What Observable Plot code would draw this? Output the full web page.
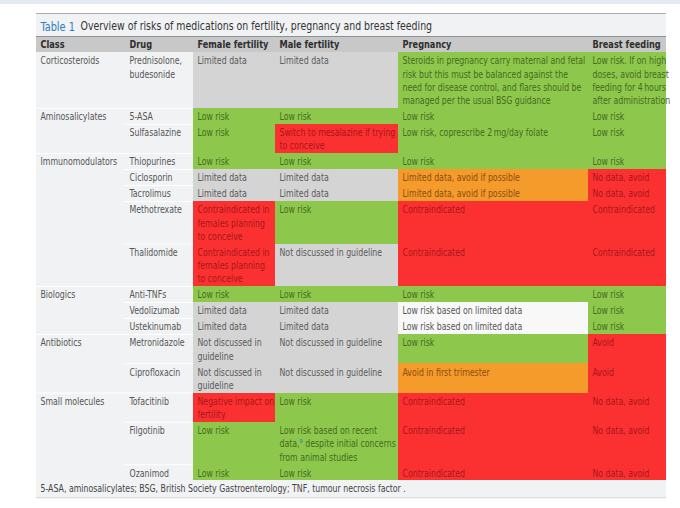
<!DOCTYPE html>
<html><head><meta charset="utf-8">
<script src="https://cdn.jsdelivr.net/npm/d3@7"></script>
<script src="https://cdn.jsdelivr.net/npm/@observablehq/plot@0.6"></script>
<style>
body{margin:0;background:#fff linear-gradient(#e4ebf0,#e4ebf0) no-repeat;background-size:100% 4px;}
#chart svg{display:block;background:transparent;}
</style>
</head><body><div id="chart"></div>
<script>
// ---------- data ----------
const titleLabel = "Table 1";
const titleText = "Overview of risks of medications on fertility, pregnancy and breast feeding";
const columns = ["Class", "Drug", "Female fertility", "Male fertility", "Pregnancy", "Breast feeding"];
const drugClass = ["Corticosteroids", "Aminosalicylates", "", "Immunomodulators", "", "", "", "", "Biologics", "", "", "Antibiotics", "", "Small molecules", "", ""];
const drugs = ["Prednisolone,\nbudesonide", "5-ASA", "Sulfasalazine", "Thiopurines", "Ciclosporin", "Tacrolimus", "Methotrexate", "Thalidomide", "Anti-TNFs", "Vedolizumab", "Ustekinumab", "Metronidazole", "Ciprofloxacin", "Tofacitinib", "Filgotinib", "Ozanimod"];
const femaleFertility = ["Limited data", "Low risk", "Low risk", "Low risk", "Limited data", "Limited data", "Contraindicated in\nfemales planning\nto conceive", "Contraindicated in\nfemales planning\nto conceive", "Low risk", "Limited data", "Limited data", "Not discussed in\nguideline", "Not discussed in\nguideline", "Negative impact on\nfertility", "Low risk", "Low risk"];
const femaleRisk = ["limited", "low", "low", "low", "limited", "limited", "contra", "contra", "low", "limited", "limited", "limited", "limited", "contra", "low", "low"];
const maleFertility = ["Limited data", "Low risk", "Switch to mesalazine if trying\nto conceive", "Low risk", "Limited data", "Limited data", "Low risk", "Not discussed in guideline", "Low risk", "Limited data", "Limited data", "Not discussed in guideline", "Not discussed in guideline", "Low risk", "Low risk based on recent\ndata,\u2079 despite initial concerns\nfrom animal studies", "Low risk"];
const maleRisk = ["limited", "low", "contra", "low", "limited", "limited", "low", "limited", "low", "limited", "limited", "limited", "limited", "low", "low", "low"];
const pregnancy = ["Steroids in pregnancy carry maternal and fetal\nrisk but this must be balanced against the\nneed for disease control, and flares should be\nmanaged per the usual BSG guidance", "Low risk", "Low risk, coprescribe 2\u2009mg/day folate", "Low risk", "Limited data, avoid if possible", "Limited data, avoid if possible", "Contraindicated", "Contraindicated", "Low risk", "Low risk based on limited data", "Low risk based on limited data", "Low risk", "Avoid in first trimester", "Contraindicated", "Contraindicated", "Contraindicated"];
const pregnancyRisk = ["low", "low", "low", "low", "caution", "caution", "contra", "contra", "low", "none", "none", "low", "caution", "contra", "contra", "contra"];
const breastFeeding = ["Low risk. If on high\ndoses, avoid breast\nfeeding for 4\u2009hours\nafter administration", "Low risk", "Low risk", "Low risk", "No data, avoid", "No data, avoid", "Contraindicated", "Contraindicated", "Low risk", "Low risk", "Low risk", "Avoid", "Avoid", "No data, avoid", "No data, avoid", "No data, avoid"];
const breastRisk = ["low", "low", "low", "low", "contra", "contra", "contra", "contra", "low", "low", "low", "contra", "contra", "contra", "contra", "contra"];
const footnote = "5-ASA, aminosalicylates; BSG, British Society Gastroenterology; TNF, tumour necrosis factor .";

// ---------- styles / layout ----------
const riskFill = {low: "#8dc84c", limited: "#d4d4d4", contra: "#fb3131", caution: "#f49b2c", none: "#f8f8f8"};
const riskText = {low: "#456a22", limited: "#5a5a5a", contra: "#a8161a", caution: "#8a4d12", none: "#555555"};
const colWidths = [89, 68, 82, 123, 190, 78];
const FONT = "'DejaVu Sans Condensed', 'DejaVu Sans', sans-serif";
const NARROW = 0.87; // horizontal squeeze to mimic a condensed face
const FS = 10, LINE = 13.25, PAD = 2.75, HEAD = 16, FOOT = 17;
const W = 680, H = 508, LEFT = 36, TOP = 36;

const colEdges = d3.cumsum([0, ...colWidths]);
const tableW = colEdges[colEdges.length - 1];
const cellTexts = [femaleFertility, maleFertility, pregnancy, breastFeeding];
const cellRisks = [femaleRisk, maleRisk, pregnancyRisk, breastRisk];

const nLines = s => s.split("\n").length;
const rows = [];
let yy = HEAD;
drugs.forEach((drug, i) => {
  const lines = d3.max([drugClass[i], drug, ...cellTexts.map(a => a[i])], nLines);
  const h = PAD + LINE * lines;
  rows.push({i, cls: drugClass[i], drug, y1: yy, y2: yy + h, groupStart: drugClass[i] !== ""});
  yy += h;
});
const tableBottom = yy;

const cells = [];
rows.forEach(r => {
  cellTexts.forEach((arr, c) => {
    cells.push({x1: colEdges[c + 2], x2: colEdges[c + 3], y1: r.y1, y2: r.y2, text: arr[r.i], risk: cellRisks[c][r.i]});
  });
});
const leftTexts = rows.flatMap(r => [
  {x: colEdges[0], y: r.y1, text: r.cls},
  {x: colEdges[1], y: r.y1, text: r.drug}
]);
const seps = rows.slice(1).map(r => ({y: r.y1, x1: r.groupStart ? 0 : colEdges[1], x2: colEdges[2]}));
const headers = columns.map((c, k) => ({x: colEdges[k], text: c}));

const chart = Plot.plot({
  width: W, height: H,
  marginTop: 0, marginBottom: 0, marginLeft: LEFT, marginRight: W - LEFT - tableW,
  x: {domain: [0, tableW], axis: null},
  y: {domain: [-TOP, H - TOP], range: [0, H], axis: null},
  style: {fontFamily: FONT, background: "transparent"},
  marks: [
    // panel background
    Plot.rect([0], {x1: 0, x2: tableW, y1: -23, y2: tableBottom + FOOT, fill: "#f1f2f4"}),
    Plot.ruleY([-23], {x1: 0, x2: tableW, stroke: "#a9adb1", strokeWidth: 1.2}),
    // title
    Plot.text([titleLabel], {x: 0, y: -10, dx: 4, text: d => d, textAnchor: "start", fill: "#2b7cc0", fontSize: 12.5}),
    Plot.text([titleText], {x: 0, y: -10, dx: 44, text: d => d, textAnchor: "start", fill: "#333", fontSize: 12}),
    // header
    Plot.rect([0], {x1: 0, x2: tableW, y1: 0, y2: HEAD, fill: "#c8c8c8"}),
    Plot.ruleY([0], {x1: 0, x2: tableW, stroke: "#8e9196", strokeWidth: 1}),
    Plot.text(headers, {x: "x", y: HEAD / 2, dx: 4, text: "text", textAnchor: "start", fontWeight: "bold", fill: "#2e2e2e", fontSize: 10.5}),
    // cells
    Plot.rect(cells, {x1: "x1", x2: "x2", y1: "y1", y2: "y2", fill: d => riskFill[d.risk], shapeRendering: "crispEdges"}),
    // separators
    Plot.ruleY(seps, {y: "y", x1: "x1", x2: "x2", stroke: "#ffffff", strokeWidth: 1}),
    Plot.ruleY([tableBottom + FOOT], {x1: 0, x2: tableW, stroke: "#cfd2d5", strokeWidth: 1}),
    // texts
    Plot.text(leftTexts, {x: "x", y: "y", dx: 4, dy: 2.5, text: "text", textAnchor: "start", lineAnchor: "top", lineHeight: LINE / FS, fill: "#555", fontSize: FS}),
    Plot.text(cells, {x: "x1", y: "y1", dx: 4, dy: 2.5, text: "text", textAnchor: "start", lineAnchor: "top", lineHeight: LINE / FS, fill: d => riskText[d.risk], fontSize: FS}),
    Plot.text([footnote], {x: 0, y: tableBottom + FOOT / 2, dx: 4, text: d => d, textAnchor: "start", fill: "#444", fontSize: FS})
  ]
});

// squeeze glyphs horizontally around each text's anchor point
d3.select(chart).selectAll("g[aria-label=text] text").each(function() {
  let t = this.getAttribute("transform");
  if (!t) {
    const x = +(this.getAttribute("x") || 0), y = +(this.getAttribute("y") || 0);
    this.removeAttribute("x"); this.removeAttribute("y");
    t = `translate(${x},${y})`;
  }
  this.setAttribute("transform", `${t} scale(${NARROW},1)`);
});
// blue reference marker (superscript citation) as in the source table
d3.select(chart).selectAll("tspan").each(function() {
  const s = this.textContent;
  const k = s.indexOf("\u2079");
  if (k >= 0) {
    this.textContent = "";
    const sel = d3.select(this);
    sel.append("tspan").text(s.slice(0, k));
    sel.append("tspan").attr("fill", "#2b7cc0").text("\u2079");
    sel.append("tspan").text(s.slice(k + 1));
  }
});
document.getElementById("chart").append(chart);
</script>
</body></html>
